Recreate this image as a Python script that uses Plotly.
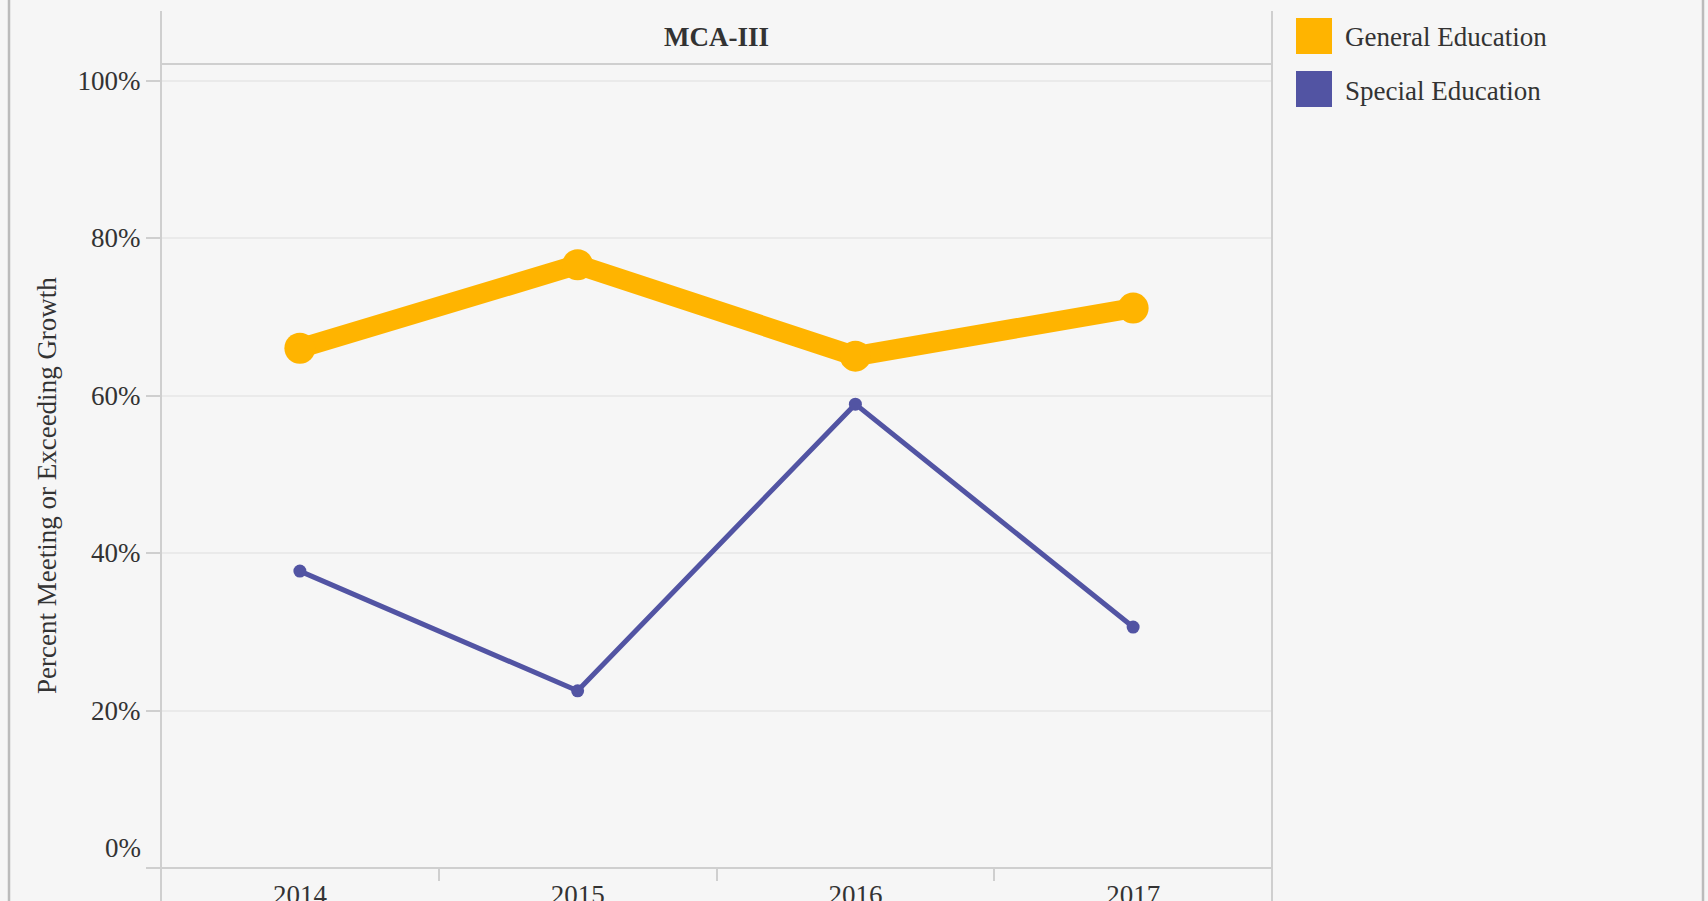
import plotly.graph_objects as go

# ---- data ----
years = ["2014", "2015", "2016", "2017"]
general_ed = [66.0, 76.6, 65.0, 71.1]
special_ed = [37.7, 22.5, 58.9, 30.6]
series_names = ["General Education", "Special Education"]
y_ticks = [0, 20, 40, 60, 80, 100]
facet_title = "MCA-III"
y_title = "Percent Meeting or Exceeding Growth"

# ---- style ----
W, H = 1708, 901
L, R, T, B = 161, 1272, 64, 868
ORANGE = "#FFB400"
PURPLE = "#5254A3"
BG = "#F6F6F6"
AXIS = "#CFCFCF"
GRID = "#EAEAEA"
TXT = "#333333"
FONT = "Liberation Serif, Times New Roman, serif"
FS = 27


def px(x):
    return (x - L) / (R - L)


def py(y):
    return (B - y) / (B - T)


fig = go.Figure()
fig.add_trace(go.Scatter(x=years, y=general_ed, mode="lines+markers", name=series_names[0],
                         line=dict(color=ORANGE, width=20), marker=dict(color=ORANGE, size=31),
                         showlegend=False))
fig.add_trace(go.Scatter(x=years, y=special_ed, mode="lines+markers", name=series_names[1],
                         line=dict(color=PURPLE, width=5), marker=dict(color=PURPLE, size=13),
                         showlegend=False))

ymax = (B - T) / 7.875

shapes = [
    # outer frame
    dict(type="line", xref="paper", yref="paper", x0=px(9), x1=px(9), y0=py(-5), y1=py(910),
         line=dict(color="#BBBBBB", width=2.5)),
    dict(type="line", xref="paper", yref="paper", x0=px(1703), x1=px(1703), y0=py(-5), y1=py(910),
         line=dict(color="#BBBBBB", width=2.5)),
    # y axis line extended up through header and down below x-axis
    dict(type="line", xref="paper", yref="paper", x0=0, x1=0, y0=py(11), y1=py(910),
         line=dict(color=AXIS, width=2)),
    # right panel border
    dict(type="line", xref="paper", yref="paper", x0=1, x1=1, y0=py(11), y1=py(910),
         line=dict(color=AXIS, width=2)),
    # header separator
    dict(type="line", xref="paper", yref="paper", x0=0, x1=1, y0=1, y1=1,
         line=dict(color=AXIS, width=2)),
    # x axis line
    dict(type="line", xref="paper", yref="paper", x0=px(147), x1=1, y0=0, y1=0,
         line=dict(color=AXIS, width=2)),
    # legend swatches
    dict(type="rect", xref="paper", yref="paper", x0=px(1296), x1=px(1332), y0=py(18), y1=py(54),
         fillcolor=ORANGE, line=dict(width=0)),
    dict(type="rect", xref="paper", yref="paper", x0=px(1296), x1=px(1332), y0=py(71), y1=py(107),
         fillcolor=PURPLE, line=dict(width=0)),
]

annotations = [
    dict(text="<b>" + facet_title + "</b>", xref="paper", yref="paper", x=0.5, y=py(37),
         xanchor="center", yanchor="middle", showarrow=False, font=dict(family=FONT, size=FS, color=TXT)),
    dict(text=y_title, xref="paper", yref="paper", x=px(47), y=py(486), textangle=-90,
         xanchor="center", yanchor="middle", showarrow=False, font=dict(family=FONT, size=FS, color=TXT)),
    dict(text=series_names[0], xref="paper", yref="paper", x=px(1343), y=py(37),
         xanchor="left", yanchor="middle", showarrow=False, font=dict(family=FONT, size=FS, color=TXT)),
    dict(text=series_names[1], xref="paper", yref="paper", x=px(1343), y=py(91),
         xanchor="left", yanchor="middle", showarrow=False, font=dict(family=FONT, size=FS, color=TXT)),
    dict(text="0%", xref="paper", yref="paper", x=px(143), y=py(848),
         xanchor="right", yanchor="middle", showarrow=False, font=dict(family=FONT, size=FS, color=TXT)),
]

fig.update_layout(
    width=W, height=H,
    margin=dict(l=L, r=W - R, t=T, b=H - B, pad=0),
    paper_bgcolor=BG, plot_bgcolor=BG,
    font=dict(family=FONT, size=FS, color=TXT),
    shapes=shapes, annotations=annotations,
    showlegend=False,
)
fig.update_xaxes(type="category", range=[-0.5, 3.5], tickson="boundaries", ticks="outside",
                 ticklen=12, tickwidth=2, tickcolor=AXIS, showgrid=False, showline=False,
                 zeroline=False, automargin=False, ticklabelstandoff=8,
                 tickfont=dict(family=FONT, size=FS, color=TXT))
fig.update_yaxes(range=[0, ymax], tickvals=y_ticks,
                 ticktext=["" if v == 0 else f"{v}%" for v in y_ticks],
                 ticks="outside", ticklen=14, tickwidth=2, tickcolor=AXIS,
                 showgrid=True, gridcolor=GRID, gridwidth=1.5, showline=False, zeroline=False,
                 automargin=False, ticklabelstandoff=0,
                 tickfont=dict(family=FONT, size=FS, color=TXT))

fig.write_html("out.html", config={"displayModeBar": False},
               post_script="document.body.style.margin='0';document.body.style.overflow='hidden';")
